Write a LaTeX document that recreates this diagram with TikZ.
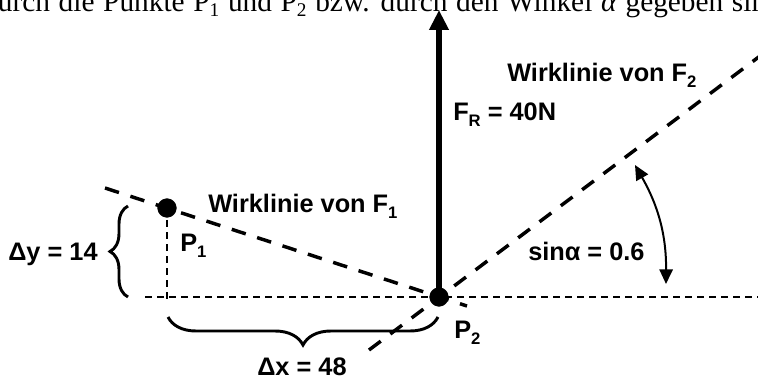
\documentclass[tikz,border=0pt]{standalone}
\usepackage{fontspec}
\setmainfont{Liberation Sans}
\newfontfamily\textschrift{Liberation Serif}
\usetikzlibrary{arrows.meta,decorations.pathreplacing}
\newcommand{\tief}[1]{\raisebox{-4.5pt}{\fontsize{12.5}{12.5}\selectfont #1}}
\newcommand{\tiefs}[1]{\raisebox{-3.5pt}{\fontsize{14.5}{14.5}\selectfont #1}}
\begin{document}
\begin{tikzpicture}[
			x=0.75pt, y=-0.75pt,
			wirk/.style={line width=2.6pt,
				dash pattern=on 11pt off 9pt},
			hilfs/.style={line width=1.2pt,
				dash pattern=on 5pt off 4pt},
			punkt/.style={circle, fill=black, draw=black,
				inner sep=0pt, minimum size=14pt},
			kraft/.style={line width=4.6pt,
				-{Triangle[length=15pt, width=14pt]}},
			winkelpfeil/.style={line width=1.5pt,
				{Triangle[length=11pt, width=10pt]}-{Triangle[length=11pt, width=10pt]}},
			klammer/.style={line width=2.2pt, decorate,
				decoration={brace, amplitude=#1}},
			beschr/.style={font=\fontsize{19}{19}\selectfont\bfseries,
				inner sep=0pt, anchor=base west},
			]
			\useasboundingbox (0,0) rectangle (758,378);
			\clip (0,0) rectangle (758,378);
			
			\node[anchor=base west, inner sep=0pt,
			font=\textschrift\fontsize{22}{22}\selectfont] (kopf) at (-17,12)
			{\spaceskip=6.5pt\relax durch die Punkte P\tiefs{1} und P\tiefs{2} bzw. durch den Winkel \textit{α} gegeben sind};
			
			\node[punkt] (P1) at (167,208) {};
			\node[punkt] (P2) at (439,297) {};
			
			\coordinate (f1a) at (105,188);
			\coordinate (f1b) at (467,306);
			\coordinate (f2a) at (369,350);
			\coordinate (f2b) at (772,47);
			\coordinate (h0) at (145,297);
			\coordinate (h1) at (760,297);
			\coordinate (v1) at (167,300);
			\coordinate (frspitze) at (439,10);
			\coordinate (wu) at (666,284);
			\coordinate (wo) at (635,165);
			\coordinate (ky0) at (128,297);
			\coordinate (ky1) at (128,206);
			\coordinate (kx0) at (438,317);
			\coordinate (kx1) at (168,317);
			
			\draw[hilfs](h0)--(h1);
			\draw[hilfs](P1.center)--(v1);
			\draw[wirk](f1a)--(f1b);
			\draw[wirk](f2a)--(f2b);
			\draw[kraft](P2.center)--(frspitze);
			\draw[winkelpfeil](wu) to[bend right=15] (wo);
			\draw[klammer=13.5pt](ky0)--(ky1);
			\draw[klammer=21pt](kx0)--(kx1);
			
			\node[beschr] (lw1) at (208,213) {Wirklinie von F\tief{1}};
			\node[beschr] (lp1) at (180,252) {P\tief{1}};
			\node[beschr] (ldy) at (8,260) {Δy = 14};
			\node[beschr] (ldx) at (257,375) {Δx = 48};
			\node[beschr] (lp2) at (454,338) {P\tief{2}};
			\node[beschr] (lfr) at (453,121) {F\tief{R} = 40N};
			\node[beschr] (lw2) at (507,82) {Wirklinie von F\tief{2}};
			\node[beschr] (lsin) at (528,260) {sinα = 0.6};
		\end{tikzpicture}
\end{document}
